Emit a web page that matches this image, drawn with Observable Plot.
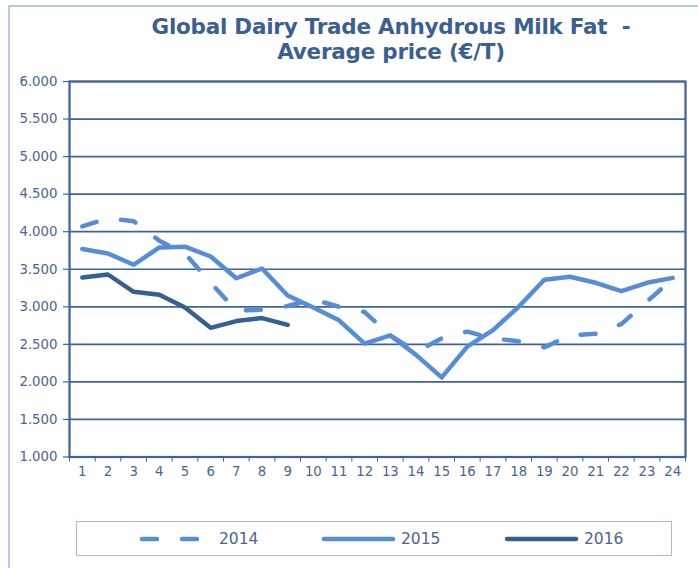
<!DOCTYPE html>
<html>
<head>
<meta charset="utf-8">
<script src="https://cdn.jsdelivr.net/npm/d3@7"></script>
<script src="https://cdn.jsdelivr.net/npm/@observablehq/plot@0.6"></script>
<style>
  html, body { margin: 0; padding: 0; background: #fff; }
  body { width: 698px; height: 568px; position: relative; overflow: hidden; font-family: "DejaVu Sans", sans-serif; }
  #frame { position: absolute; left: 8px; top: 5px; width: 720px; height: 620px; border-left: 2px solid #b7c8df; border-top: 2px solid #b7c8df; }
  #title { position: absolute; left: 91px; top: 14px; width: 600px; text-align: center; font-family: "DejaVu Sans", sans-serif; font-weight: bold; font-size: 21.5px; line-height: 25px; color: #3b5f91; letter-spacing: -0.25px; }
  #chart { position: absolute; left: 0; top: 60px; }
  #legend { position: absolute; left: 76px; top: 521px; width: 596px; height: 35px; border: 1px solid #a9bcd6; box-sizing: border-box; }
  .item { position: absolute; top: 0; height: 33px; display: flex; align-items: center; font-size: 15.5px; color: #4a6690; }
  .item svg { margin-right: 4px; }
</style>
</head>
<body>
<div id="frame"></div>
<div id="title">Global Dairy Trade Anhydrous Milk Fat&nbsp;&nbsp;-<br>Average price (€/T)</div>
<div id="chart"></div>
<div id="legend"></div>
<script>
// ---- data ----
const weeks = [1, 2, 3, 4, 5, 6, 7, 8, 9, 10, 11, 12, 13, 14, 15, 16, 17, 18, 19, 20, 21, 22, 23, 24];
const series = ["2014", "2015", "2016"];
const v2014 = [4070, 4180, 4140, 3880, 3710, 3320, 2950, 2960, 3010, 3100, 3000, 2930, 2620, 2400, 2580, 2670, 2580, 2540, 2460, 2620, 2640, 2770, 3070, 3370];
const v2015 = [3770, 3710, 3560, 3790, 3800, 3670, 3380, 3510, 3150, 2990, 2820, 2510, 2620, 2360, 2060, 2470, 2690, 3000, 3360, 3400, 3320, 3210, 3320, 3385];
const v2016 = [3390, 3430, 3200, 3160, 2990, 2720, 2810, 2850, 2760];
const yTicks = [1000, 1500, 2000, 2500, 3000, 3500, 4000, 4500, 5000, 5500, 6000];

// ---- styles ----
const colors = { "2014": "#558ed5", "2015": "#558ed5", "2016": "#376092" };
const dashes = { "2014": "15,25", "2015": null, "2016": null };
const gridColor = "#3f6396";
const textColor = "#4a6690";

const values = { "2014": v2014, "2015": v2015, "2016": v2016 };
const toRows = (name) => values[name].map((v, i) => ({ week: weeks[i], value: v, year: name }));

const fmt = (d) => d3.format(",")(d).replace(/,/g, ".");
const boundaries = [weeks[0] - 0.5, ...weeks.map((w) => w + 0.5)];

const lineMarks = series.map((name) =>
  Plot.line(toRows(name), {
    x: "week", y: "value",
    stroke: colors[name], strokeWidth: 4.5,
    strokeDasharray: dashes[name] || undefined,
    strokeLinecap: "round", strokeLinejoin: "round"
  })
);

const chart = Plot.plot({
  width: 698,
  height: 420,
  marginLeft: 69,
  marginRight: 13,
  marginTop: 21,
  marginBottom: 23.5,
  style: { fontFamily: "DejaVu Sans, sans-serif", fontSize: "13.3px", color: textColor, background: "transparent" },
  x: { type: "linear", domain: [weeks[0] - 0.5, weeks[weeks.length - 1] + 0.5], axis: null },
  y: { domain: [yTicks[0], yTicks[yTicks.length - 1]], axis: null },
  marks: [
    Plot.ruleY(yTicks, { stroke: gridColor, strokeWidth: 1.7 }),
    Plot.frame({ stroke: gridColor, strokeWidth: 2.2 }),
    Plot.axisY({ ticks: yTicks, tickFormat: fmt, tickSize: 6, tickPadding: 6, stroke: gridColor, fill: textColor, strokeWidth: 1.2, label: null }),
    Plot.axisX({ ticks: boundaries, tickFormat: () => "", tickSize: 5, stroke: gridColor, strokeWidth: 1, label: null }),
    Plot.axisX({ ticks: weeks, tickFormat: (d) => String(d), tickSize: 0, tickPadding: 10, fill: textColor, label: null }),
    ...lineMarks
  ]
});
document.getElementById("chart").appendChild(chart);

// ---- legend ----
const legend = document.getElementById("legend");
const legendPos = { "2014": 62, "2015": 244, "2016": 427 };
series.forEach((name) => {
  const item = document.createElement("div");
  item.className = "item";
  item.style.left = legendPos[name] + "px";
  const ns = "http://www.w3.org/2000/svg";
  const svg = document.createElementNS(ns, "svg");
  svg.setAttribute("width", 76);
  svg.setAttribute("height", 10);
  const ln = document.createElementNS(ns, "line");
  ln.setAttribute("x1", 3); ln.setAttribute("x2", name === "2014" ? 60 : 72);
  ln.setAttribute("y1", 5); ln.setAttribute("y2", 5);
  ln.setAttribute("stroke", colors[name]);
  ln.setAttribute("stroke-width", 4.5);
  ln.setAttribute("stroke-linecap", "round");
  if (dashes[name]) ln.setAttribute("stroke-dasharray", dashes[name]);
  svg.appendChild(ln);
  item.appendChild(svg);
  const label = document.createElement("span");
  label.textContent = name;
  item.appendChild(label);
  legend.appendChild(item);
});
</script>
</body>
</html>
